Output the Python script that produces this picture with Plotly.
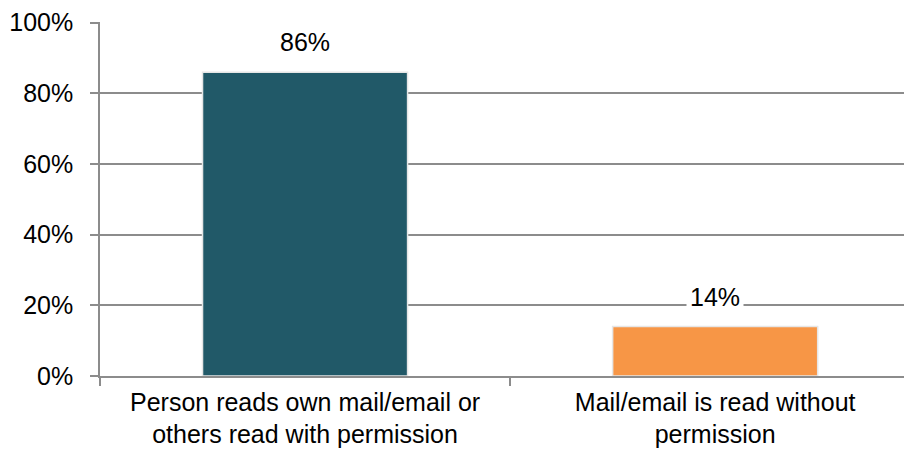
import plotly.graph_objects as go

categories = [
    "Person reads own mail/email or<br>others read with permission",
    "Mail/email is read without<br>permission",
]
values = [0.86, 0.14]
value_labels = ["86%", "14%"]
bar_colors = ["#215968", "#F79646"]
y_ticks = [0, 0.2, 0.4, 0.6, 0.8, 1.0]
y_tick_labels = ["0%", "20%", "40%", "60%", "80%", "100%"]

FONT = dict(family="Liberation Sans, Arial, sans-serif", size=25, color="#000000")
GRID = "#8c8c8c"

fig = go.Figure()
fig.add_trace(
    go.Bar(
        x=categories,
        y=values,
        width=0.5,
        marker=dict(color=bar_colors, line=dict(color="#e6e6e6", width=1.5)),
        hoverinfo="skip",
    )
)

# value labels with a white box so the gridline is hidden behind them
for cat, val, lab in zip(categories, values, value_labels):
    fig.add_annotation(
        x=cat,
        y=val,
        text=lab,
        showarrow=False,
        yanchor="bottom",
        yshift=12,
        bgcolor="white",
        borderpad=3,
        font=FONT,
    )

# page body has an 8px margin, so margins are shifted to land the plot where the reference has it
fig.update_layout(
    width=912,
    height=458,
    margin=dict(l=92, r=8, t=14, b=90),
    plot_bgcolor="white",
    paper_bgcolor="white",
    font=FONT,
    showlegend=False,
)
fig.update_xaxes(
    range=[-0.5, 1.48],
    automargin=False,
    showline=True,
    linecolor=GRID,
    linewidth=1.5,
    ticks="outside",
    tickson="boundaries",
    ticklen=8,
    tickcolor=GRID,
    tickwidth=1.5,
    tickfont=FONT,
    showgrid=False,
    ticklabelstandoff=3,
)
fig.update_yaxes(
    range=[0, 1.002],
    automargin=False,
    tickmode="array",
    tickvals=y_ticks,
    ticktext=y_tick_labels,
    showline=True,
    linecolor=GRID,
    linewidth=1.5,
    ticks="outside",
    ticklen=8,
    tickcolor=GRID,
    tickwidth=1.5,
    showgrid=True,
    gridcolor=GRID,
    gridwidth=1.5,
    zeroline=False,
    tickfont=FONT,
    ticklabelstandoff=12,
)

fig.write_html("out.html")
